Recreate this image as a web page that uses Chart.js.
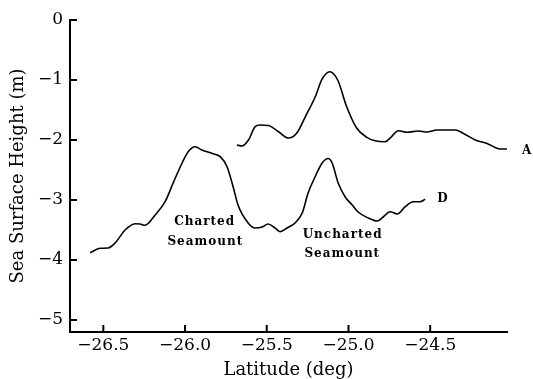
<!DOCTYPE html>
<html>
<head>
<meta charset="utf-8">
<script src="https://cdn.jsdelivr.net/npm/chart.js@4"></script>
<style>
  html, body { margin: 0; padding: 0; background: #fff; }
  #wrap { width: 533px; height: 379px; }
</style>
</head>
<body>
<div id="wrap"><canvas id="seaChart" width="533" height="379"></canvas></div>
<script>
// profile D (lower track)
const dLat = [-26.581, -26.520, -26.471, -26.428, -26.367, -26.306, -26.275, -26.245, -26.183, -26.122,
  -26.073, -26.018, -25.981, -25.938, -25.896, -25.833, -25.785, -25.743, -25.706,
  -25.676, -25.614, -25.571, -25.528, -25.492, -25.449, -25.418, -25.376, -25.327, -25.283,
  -25.247, -25.204, -25.161, -25.124, -25.100, -25.063, -25.020, -24.977, -24.941, -24.879, -24.824,
  -24.788, -24.745, -24.702, -24.653, -24.604, -24.561, -24.531]
const dHeight = [-3.878, -3.805, -3.80, -3.717, -3.50, -3.395, -3.40, -3.422, -3.25, -3.028,
  -2.717, -2.383, -2.195, -2.112, -2.167, -2.225, -2.278, -2.445, -2.778,
  -3.083, -3.383, -3.467, -3.45, -3.40, -3.467, -3.528, -3.467, -3.383, -3.217,
  -2.883, -2.612, -2.383, -2.308, -2.383, -2.717, -2.95, -3.083, -3.20, -3.30, -3.35,
  -3.283, -3.195, -3.233, -3.112, -3.028, -3.028, -2.988]

// profile A (upper track)
const aLat = [-25.683, -25.652, -25.612, -25.571, -25.540, -25.490, -25.428, -25.367, -25.316, -25.265,
  -25.204, -25.161, -25.115, -25.066, -25.011, -24.949, -24.888, -24.838, -24.775,
  -24.745, -24.694, -24.642, -24.573, -24.520, -24.458, -24.346, -24.296, -24.224, -24.152,
  -24.071, -24.030]
const aHeight = [-2.083, -2.10, -2.00, -1.778, -1.75, -1.758, -1.862, -1.967, -1.883, -1.617,
  -1.283, -0.983, -0.862, -1.00, -1.445, -1.805, -1.955, -2.012, -2.028,
  -1.967, -1.845, -1.872, -1.85, -1.867, -1.833, -1.833, -1.892, -2.00, -2.058,
  -2.15, -2.15]

const xTicks = [-26.5, -26.0, -25.5, -25.0, -24.5]
const yTicks = [0, -1, -2, -3, -4, -5]

const labelTexts = ['Charted', 'Seamount', 'Uncharted', 'Seamount', 'A', 'D']
const labelLat = [-25.880, -25.876, -25.036, -25.038, -23.907, -24.422]
const labelHeight = [-3.362, -3.695, -3.583, -3.905, -2.183, -2.988]

const serif = "'DejaVu Serif', serif"

function toPoints(xs, ys) {
  return xs.map((x, i) => ({ x: x, y: ys[i] }))
}

function minus(v, digits) {
  const s = Math.abs(v).toFixed(digits)
  return v < 0 ? '\u2212' + s : s
}

// inward tick marks + text labels
const extras = {
  id: 'extras',
  afterDraw(chart) {
    const ctx = chart.ctx
    const x = chart.scales.x
    const y = chart.scales.y
    const area = chart.chartArea
    ctx.save()
    ctx.strokeStyle = '#000'
    ctx.lineWidth = 2
    ctx.beginPath()
    xTicks.forEach(v => {
      const px = x.getPixelForValue(v)
      ctx.moveTo(px, area.bottom)
      ctx.lineTo(px, area.bottom - 7)
    })
    yTicks.forEach(v => {
      const py = y.getPixelForValue(v)
      ctx.moveTo(area.left, py)
      ctx.lineTo(area.left + 7, py)
    })
    ctx.stroke()

    ctx.fillStyle = '#000'
    ctx.font = "bold 12px 'DejaVu Serif', serif"
    ctx.letterSpacing = '1px'
    ctx.textAlign = 'center'
    ctx.textBaseline = 'middle'
    labelTexts.forEach((t, i) => {
      ctx.fillText(t, x.getPixelForValue(labelLat[i]), y.getPixelForValue(labelHeight[i]))
    })
    ctx.restore()
  }
}

const lineStyle = {
  borderColor: '#000',
  borderWidth: 1.6,
  pointRadius: 0,
  cubicInterpolationMode: 'monotone',
  fill: false
}

new Chart(document.getElementById('seaChart'), {
  type: 'line',
  data: {
    datasets: [
      Object.assign({ label: 'D', data: toPoints(dLat, dHeight) }, lineStyle),
      Object.assign({ label: 'A', data: toPoints(aLat, aHeight) }, lineStyle)
    ]
  },
  options: {
    responsive: false,
    animation: false,
    layout: { padding: { left: 0, right: 26, top: 20, bottom: 0 } },
    plugins: { legend: { display: false }, tooltip: { enabled: false } },
    scales: {
      x: {
        type: 'linear',
        min: -26.704,
        max: -24.03,
        afterFit(scale) { scale.height = 47 },
        afterBuildTicks(scale) { scale.ticks = xTicks.map(v => ({ value: v })) },
        grid: { drawOnChartArea: false, drawTicks: false },
        border: { display: true, color: '#000', width: 2 },
        ticks: {
          padding: 3,
          color: '#000',
          maxRotation: 0,
          autoSkip: false,
          font: { family: serif, size: 17 },
          callback: v => minus(v, 1)
        },
        title: {
          display: true,
          text: 'Latitude (deg)',
          color: '#000',
          font: { family: serif, size: 18, lineHeight: 1 },
          padding: { top: 0, bottom: 0 }
        }
      },
      y: {
        min: -5.2,
        max: 0,
        afterFit(scale) { scale.width = 70 },
        afterBuildTicks(scale) { scale.ticks = yTicks.map(v => ({ value: v })) },
        grid: { drawOnChartArea: false, drawTicks: false },
        border: { display: true, color: '#000', width: 2 },
        ticks: {
          padding: 7,
          color: '#000',
          font: { family: serif, size: 17 },
          callback: v => minus(v, 0)
        },
        title: {
          display: true,
          text: 'Sea Surface Height (m)',
          color: '#000',
          font: { family: serif, size: 18, lineHeight: 1 },
          padding: { top: 9, bottom: 0 }
        }
      }
    }
  },
  plugins: [extras]
})
</script>
</body>
</html>
